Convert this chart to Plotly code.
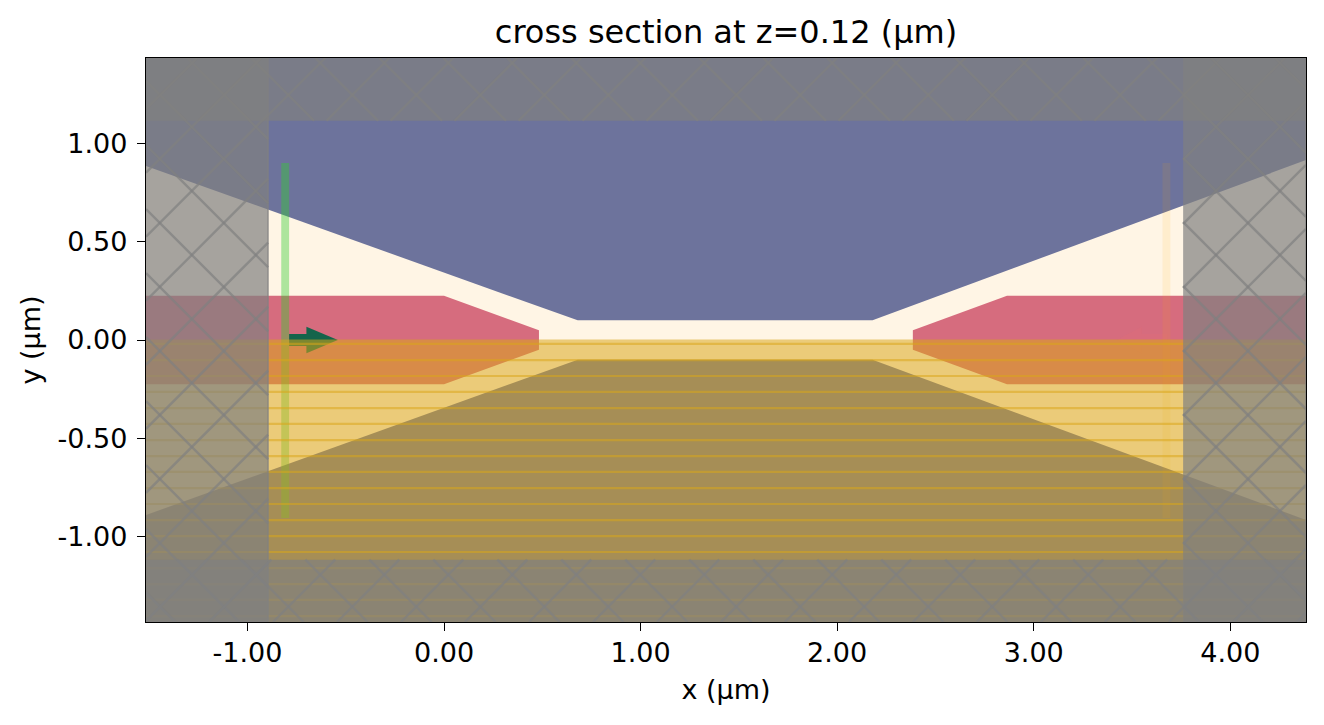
import plotly.graph_objects as go

# ---- axis / labels
x_range = [-1.516, 4.385]
y_range = [-1.434, 1.434]
x_ticks = [-1, 0, 1, 2, 3, 4]
x_ticktext = ["-1.00", "0.00", "1.00", "2.00", "3.00", "4.00"]
y_ticks = [-1, -0.5, 0, 0.5, 1]
y_ticktext = ["-1.00", "-0.50", "0.00", "0.50", "1.00"]

# ---- geometry (um)
blue_top_x = [-1.516, 0.68, 2.18, 4.385, 4.385, -1.516]
blue_top_y = [0.885, 0.1, 0.1, 0.915, 1.434, 1.434]
blue_bot_x = [-1.516, 0.68, 2.18, 4.385, 4.385, -1.516]
blue_bot_y = [-0.89, -0.1, -0.1, -0.915, -1.434, -1.434]
pink_l_x = [-1.516, 0.0, 0.483, 0.483, 0.0, -1.516]
pink_l_y = [0.225, 0.225, 0.05, -0.05, -0.225, -0.225]
pink_r_x = [4.385, 2.864, 2.385, 2.385, 2.864, 4.385]
pink_r_y = [0.225, 0.225, 0.05, -0.05, -0.225, -0.225]
source_x = [-0.828, -0.788, -0.788, -0.828]
source_y = [0.9, 0.9, -0.905, -0.905]
monitor_x = [3.655, 3.695, 3.695, 3.655]
monitor_y = [0.9, 0.9, -0.905, -0.905]
src_arrow_x = [-0.788, -0.70, -0.70, -0.54, -0.70, -0.70, -0.788]
src_arrow_y = [0.03, 0.03, 0.068, 0.0, -0.068, -0.03, -0.03]
mon_arrow_x = [3.68, 3.55, 3.55, 3.42, 3.55, 3.55, 3.68]
mon_arrow_y = [0.03, 0.03, 0.068, 0.0, -0.068, -0.03, -0.03]
yellow_x = [-1.516, 4.385, 4.385, -1.516]
yellow_y = [0.002, 0.002, -1.434, -1.434]
stripe_y = [-0.02, -0.102, -0.183, -0.264, -0.346, -0.427, -0.509, -0.590, -0.671,
            -0.753, -0.834, -0.916, -0.997, -1.078, -1.160, -1.241, -1.322, -1.404]
pml_x_left = [-1.516, -0.895]
pml_x_right = [3.76, 4.385]
pml_y_top = [1.115, 1.434]
pml_y_bot = [-1.434, -1.117]

# hatch: spacing along x, and a (x+y, x-y) lattice offset per PML
hatch_step = 0.3255
hatch_left = (-0.525, -2.041)
hatch_right = (4.685, 3.169)
hatch_top = (0.454, -2.038)
hatch_bottom = (-2.148, 0.564)

CREAM = "#fff5e5"
BLUE = "#6d739c"
PINK = "#d66c7e"
YELLOW = "rgba(218,166,24,0.53)"
GREEN = "rgba(50,205,50,0.4)"
ORANGE = "rgba(255,165,0,0.1)"
ARROW_G = "rgba(0,100,70,0.9)"
ARROW_O = "rgba(255,120,100,0.08)"
PML = "rgba(128,128,128,0.7)"
HATCH = "rgba(128,128,128,0.7)"

fig = go.Figure()


def poly(xs, ys, color):
    fig.add_trace(go.Scatter(x=xs, y=ys, mode="lines", fill="toself", fillcolor=color,
                             line=dict(width=0), hoverinfo="skip", showlegend=False))


def rect(xr, yr):
    return [xr[0], xr[1], xr[1], xr[0]], [yr[0], yr[0], yr[1], yr[1]]


def hatch(xr, yr, off):
    """Diagonal lattice of lines clipped to the rectangle xr, yr."""
    xs, ys = [], []
    n = int(12 / hatch_step)
    for k in range(-n, n):
        # x + y = c
        c = off[0] + k * hatch_step
        x0 = max(xr[0], c - yr[1])
        x1 = min(xr[1], c - yr[0])
        if x0 < x1:
            xs += [x0, x1, None]
            ys += [c - x0, c - x1, None]
        # x - y = d
        d = off[1] + k * hatch_step
        x0 = max(xr[0], d + yr[0])
        x1 = min(xr[1], d + yr[1])
        if x0 < x1:
            xs += [x0, x1, None]
            ys += [x0 - d, x1 - d, None]
    fig.add_trace(go.Scatter(x=xs, y=ys, mode="lines", line=dict(color=HATCH, width=2.4),
                             hoverinfo="skip", showlegend=False))


poly(blue_top_x, blue_top_y, BLUE)
poly(blue_bot_x, blue_bot_y, BLUE)
poly(pink_l_x, pink_l_y, PINK)
poly(pink_r_x, pink_r_y, PINK)
poly(source_x, source_y, GREEN)
poly(monitor_x, monitor_y, ORANGE)
poly(src_arrow_x, src_arrow_y, ARROW_G)
poly(mon_arrow_x, mon_arrow_y, ARROW_O)
poly(yellow_x, yellow_y, YELLOW)

sx, sy = [], []
for v in stripe_y:
    sx += [x_range[0], x_range[1], None]
    sy += [v, v, None]
fig.add_trace(go.Scatter(x=sx, y=sy, mode="lines", line=dict(color=YELLOW, width=2.2),
                         hoverinfo="skip", showlegend=False))

# PML overlays
full_y = y_range
full_x = x_range
for xr, off in ((pml_x_left, hatch_left), (pml_x_right, hatch_right)):
    px, py = rect(xr, full_y)
    fig.add_trace(go.Scatter(x=px, y=py, mode="lines", fill="toself", fillcolor=PML,
                             line=dict(width=1.6, color=PML), hoverinfo="skip", showlegend=False))
    hatch(xr, full_y, off)
for yr, off in ((pml_y_top, hatch_top), (pml_y_bot, hatch_bottom)):
    px, py = rect(full_x, yr)
    poly(px, py, PML)
    hatch(full_x, yr, off)

font = dict(family="DejaVu Sans", size=27, color="black")
axis = dict(showgrid=False, zeroline=False, showline=True, mirror=True, linecolor="black",
            linewidth=1.3, ticks="outside", ticklen=8, tickwidth=1.4, tickcolor="black",
            tickfont=font)
fig.update_layout(
    width=1324, height=725, autosize=False,
    paper_bgcolor="white", plot_bgcolor=CREAM,
    margin=dict(l=146, r=18, t=58, b=103, pad=0),
    showlegend=False,
    title=dict(text="cross section at z=0.12 (μm)", xref="paper", x=0.5, xanchor="center",
               y=1 - 32 / 725, yref="container", yanchor="middle",
               font=dict(family="DejaVu Sans", size=32, color="black")),
    xaxis=dict(axis, range=x_range, tickmode="array", tickvals=x_ticks, ticktext=x_ticktext,
               ticklabelstandoff=-2,
               title=dict(text="x (μm)", font=font, standoff=13)),
    yaxis=dict(axis, range=y_range, tickmode="array", tickvals=y_ticks, ticktext=y_ticktext,
               ticklabelstandoff=4,
               title=dict(text="y (μm)", font=font, standoff=9)),
)

fig.write_html("out.html", config=dict(displayModeBar=False),
               post_script="document.body.style.margin='0';")
